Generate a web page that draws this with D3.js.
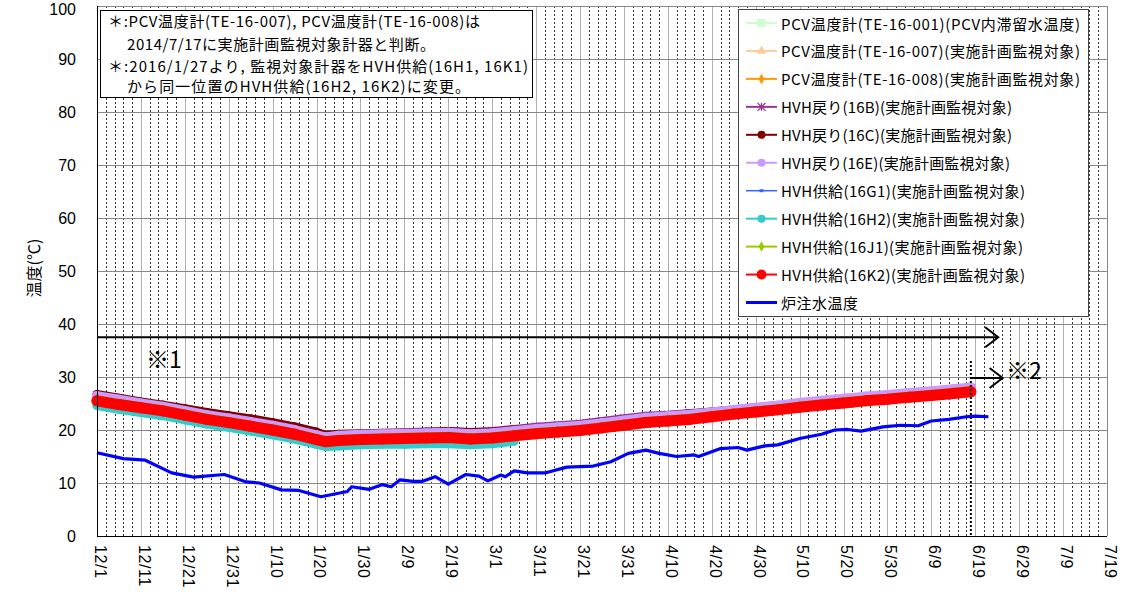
<!DOCTYPE html>
<html><head><meta charset="utf-8">
<script src="https://cdn.jsdelivr.net/npm/d3@7/dist/d3.min.js"></script>
<style>body{margin:0;background:#fff}svg{display:block}</style>
</head><body><svg id="c" width="1126" height="592"></svg>
<script>
// ---------- data ----------
const warmDates = ["2016-12-01","2016-12-06","2016-12-11","2016-12-16","2016-12-21","2016-12-26","2016-12-31",
 "2017-01-05","2017-01-10","2017-01-15","2017-01-20","2017-01-22","2017-01-25","2017-01-30",
 "2017-02-04","2017-02-09","2017-02-14","2017-02-19","2017-02-24","2017-03-01","2017-03-06",
 "2017-03-11","2017-03-16","2017-03-21","2017-03-26","2017-03-31","2017-04-05","2017-04-10",
 "2017-04-15","2017-04-20","2017-04-25","2017-04-30","2017-05-05","2017-05-10","2017-05-15",
 "2017-05-20","2017-05-25","2017-05-30","2017-06-04","2017-06-09","2017-06-14","2017-06-18"];
const pcv001 = [25.3,24.6,24.0,23.4,22.6,21.8,21.2,20.5,19.8,19.0,18.0,17.6,17.8,18.0,18.1,18.2,18.3,18.4,18.1,18.3,18.7,19.1,19.4,19.7,20.2,20.7,21.2,21.5,21.8,22.3,22.8,23.2,23.6,24.1,24.5,24.9,25.3,25.6,26.0,26.3,26.7,27.0];
const pcv007 = [25.7,25.0,24.4,23.8,23.0,22.2,21.6,20.9,20.2,19.4,18.4,18.0,18.2,18.4,18.5,18.6,18.7,18.8,18.5,18.7,19.1,19.5,19.8,20.1,20.6,21.1,21.6,21.9,22.2,22.7,23.2,23.6,24.0,24.5,24.9,25.3,25.7,26.0,26.4,26.7,27.1,27.4];
const pcv008 = [25.8,25.1,24.5,23.9,23.1,22.3,21.7,21.0,20.3,19.5,18.5,18.1,18.3,18.5,18.6,18.7,18.8,18.9,18.6,18.8,19.2,19.6,19.9,20.2,20.7,21.2,21.7,22.0,22.3,22.8,23.3,23.7,24.1,24.6,25.0,25.4,25.8,26.1,26.5,26.8,27.2,27.5];
const hvh16B = [26.2,25.5,24.9,24.3,23.5,22.7,22.1,21.4,20.7,19.9,18.9,18.5,18.8,19.0,19.1,19.2,19.4,19.8,19.6,19.8,20.2,20.6,20.9,21.2,21.7,22.2,22.7,22.9,23.2,23.4,23.8,24.2,24.6,25.0,25.4,25.8,26.2,26.5,26.9,27.2,27.6,27.9];
const hvh16C = [26.7,26.0,25.3,24.7,24.0,23.3,22.7,22.1,21.4,20.6,19.6,19.0,19.2,19.3,19.4,19.5,19.6,19.7,19.5,19.6,20.0,20.3,20.6,20.9,21.4,21.9,22.4,22.7,23.0,23.4,23.8,24.2,24.6,25.0,25.4,25.8,26.2,26.5,26.9,27.2,27.6,27.9];
const hvh16E = [26.4,25.7,25.0,24.4,23.6,22.8,22.2,21.5,20.8,20.0,19.0,18.6,18.9,19.1,19.2,19.3,19.4,19.5,19.2,19.4,19.8,20.2,20.5,20.8,21.3,21.8,22.3,22.6,22.9,23.3,23.8,24.2,24.6,25.1,25.5,25.9,26.3,26.6,27.0,27.3,27.7,28.0];
const hvh16G1 = [25.6,24.9,24.3,23.7,22.9,22.1,21.5,20.8,20.1,19.3,18.3,17.9,18.1,18.3,18.4,18.5,18.6,18.7,18.4,18.6,19.0,19.4,19.7,20.0,20.5,21.0,21.5,21.8,22.1,22.6,23.1,23.5,23.9,24.4,24.8,25.2,25.6,25.9,26.3,26.6,27.0,27.3];
const hvh16H2 = [24.6,23.9,23.3,22.7,21.9,21.1,20.5,19.8,19.1,18.3,17.3,16.9,17.0,17.2,17.3,17.3,17.4,17.4,17.2,17.4,17.9,null,null,null,null,null,null,null,null,null,null,null,null,null,null,null,null,null,null,null,null,null];
const hvh16J1 = [25.9,25.2,24.6,24.0,23.2,22.4,21.8,21.1,20.4,19.6,18.6,18.2,18.4,18.6,18.7,18.8,18.9,19.0,18.7,18.9,19.3,19.7,20.0,20.3,20.8,21.3,21.8,22.1,22.4,22.9,23.4,23.8,24.2,24.7,25.1,25.5,25.9,26.2,26.6,26.9,27.3,27.6];
const hvh16K2 = [25.5,24.8,24.2,23.6,22.8,22.0,21.4,20.7,20.0,19.2,18.2,17.8,18.0,18.2,18.3,18.4,18.5,18.6,18.3,18.5,18.9,19.3,19.6,19.9,20.4,20.9,21.4,21.7,22.0,22.5,23.0,23.4,23.8,24.3,24.7,25.1,25.5,25.8,26.2,26.5,26.9,27.2];

const waterDates = ["2016-12-01","2016-12-07","2016-12-12","2016-12-18","2016-12-23","2016-12-30","2017-01-04","2017-01-07",
 "2017-01-12","2017-01-16","2017-01-21","2017-01-27","2017-01-28","2017-02-01","2017-02-04","2017-02-06","2017-02-08",
 "2017-02-11","2017-02-13","2017-02-16","2017-02-19","2017-02-23","2017-02-26","2017-02-28","2017-03-03","2017-03-04",
 "2017-03-06","2017-03-09","2017-03-13","2017-03-18","2017-03-24","2017-03-28","2017-04-01","2017-04-05","2017-04-08",
 "2017-04-12","2017-04-16","2017-04-17","2017-04-22","2017-04-26","2017-04-28","2017-05-02","2017-05-05","2017-05-10",
 "2017-05-15","2017-05-18","2017-05-21","2017-05-24","2017-05-29","2017-06-02","2017-06-06","2017-06-09","2017-06-13",
 "2017-06-17","2017-06-19","2017-06-22"];
const waterTemp = [15.7,14.6,14.3,11.9,11.1,11.6,10.2,10.0,8.7,8.6,7.4,8.4,9.3,8.8,9.7,9.3,10.6,10.3,10.3,11.2,9.8,11.6,11.3,10.4,11.5,11.2,
 12.3,11.9,11.9,13.0,13.2,14.0,15.6,16.2,15.6,15.0,15.3,15.0,16.5,16.7,16.2,17.0,17.2,18.4,19.2,20.0,20.1,19.8,20.6,20.9,20.8,21.7,22.0,22.5,22.6,22.5];

const seriesNames = ["PCV温度計(TE-16-001)(PCV内滞留水温度)","PCV温度計(TE-16-007)(実施計画監視対象)","PCV温度計(TE-16-008)(実施計画監視対象)",
 "HVH戻り(16B)(実施計画監視対象)","HVH戻り(16C)(実施計画監視対象)","HVH戻り(16E)(実施計画監視対象)","HVH供給(16G1)(実施計画監視対象)",
 "HVH供給(16H2)(実施計画監視対象)","HVH供給(16J1)(実施計画監視対象)","HVH供給(16K2)(実施計画監視対象)","炉注水温度"];
const seriesColors = ["#ccffcc","#ffcc99","#ff9900","#993399","#800000","#cc99ff","#3366ff","#33cccc","#99cc00","#ff0000","#0000ff"];
const seriesMarkers = ["square","triangle","diamond","cross","circle","circle","dash","circle","diamond","circle","none"];
const tickDates = ["2016-12-01","2016-12-11","2016-12-21","2016-12-31","2017-01-10","2017-01-20","2017-01-30","2017-02-09","2017-02-19",
 "2017-03-01","2017-03-11","2017-03-21","2017-03-31","2017-04-10","2017-04-20","2017-04-30","2017-05-10","2017-05-20","2017-05-30",
 "2017-06-09","2017-06-19","2017-06-29","2017-07-09","2017-07-19"];
const tickLabels = ["12/1","12/11","12/21","12/31","1/10","1/20","1/30","2/9","2/19","3/1","3/11","3/21","3/31","4/10","4/20","4/30",
 "5/10","5/20","5/30","6/9","6/19","6/29","7/9","7/19"];
const yTicks = [0,10,20,30,40,50,60,70,80,90,100];
const noteLines = ["＊:PCV温度計(TE-16-007), PCV温度計(TE-16-008)は","2014/7/17に実施計画監視対象計器と判断。",
 "＊:2016/1/27より, 監視対象計器をHVH供給(16H1, 16K1)","から同一位置のHVH供給(16H2, 16K2)に変更。"];

// ---------- setup ----------
const parse = d3.timeParse("%Y-%m-%d");
const svg = d3.select("#c");
const start = parse("2016-12-01"), end = parse("2017-07-19");
const x = d3.scaleTime().domain([start, end]).range([97, 1107]);
const y = d3.scaleLinear().domain([0, 100]).range([536, 6]);
const JP = "'Noto Sans CJK JP','Noto Sans',sans-serif";
const AR = "'Liberation Sans',Arial,sans-serif";

// grid: vertical every 2 days
const gridDays = d3.range(0, 231, 2).map(d => d3.timeDay.offset(start, d));
const g = svg.append("g");
g.selectAll("line.v").data(gridDays).join("line")
  .attr("x1", d => Math.round(x(d)) + 0.5).attr("x2", d => Math.round(x(d)) + 0.5)
  .attr("y1", y(100)).attr("y2", y(0))
  .attr("stroke", (d, i) => i % 5 === 0 ? "#b0b0b0" : "#333")
  .attr("stroke-dasharray", (d, i) => i % 5 === 0 ? null : "2,2")
  .attr("stroke-width", 1);
g.selectAll("line.h").data(yTicks.slice(1, -1)).join("line")
  .attr("x1", x(start)).attr("x2", x(end))
  .attr("y1", d => Math.round(y(d)) + 0.5).attr("y2", d => Math.round(y(d)) + 0.5)
  .attr("stroke", "#888").attr("stroke-width", 1);
svg.append("line").attr("x1", x(start)).attr("x2", x(end)).attr("y1", y(100) + 0.5).attr("y2", y(100) + 0.5).attr("stroke", "#888");
svg.append("line").attr("x1", x(end) + 0.5).attr("x2", x(end) + 0.5).attr("y1", y(100)).attr("y2", y(0)).attr("stroke", "#888");

// ---------- series ----------
const warmValues = [pcv001, pcv007, pcv008, hvh16B, hvh16C, hvh16E, hvh16G1, hvh16H2, hvh16J1, hvh16K2];
const bandWidth = [6, 6, 6, 8, 9, 10, 3, 9, 7, 11];
const wd = warmDates.map(parse);
const line = d3.line().defined(d => d.v != null).x(d => x(d.t)).y(d => y(d.v)).curve(d3.curveLinear);

function marker(sel, type, size, color) {
  if (type === "circle") sel.append("circle").attr("r", size / 2).attr("fill", color);
  else if (type === "square") sel.append("rect").attr("x", -size / 2).attr("y", -size / 2).attr("width", size).attr("height", size).attr("fill", color);
  else if (type === "triangle") sel.append("path").attr("d", d3.symbol(d3.symbolTriangle, size * size * 0.6)()).attr("fill", color);
  else if (type === "diamond") sel.append("path").attr("d", d3.symbol(d3.symbolDiamond, size * size * 0.5)()).attr("fill", color);
  else if (type === "cross") sel.append("path").attr("d", `M${-size/2},${-size/2}L${size/2},${size/2}M${-size/2},${size/2}L${size/2},${-size/2}M0,${-size/2}L0,${size/2}`).attr("stroke", color).attr("stroke-width", 1.3);
  else if (type === "dash") sel.append("rect").attr("x", -2).attr("y", -1.5).attr("width", 4).attr("height", 3).attr("fill", color);
}

warmValues.forEach((vals, si) => {
  const pts = vals.map((v, i) => ({ t: wd[i], v }));
  const sg = svg.append("g");
  sg.append("path").attr("d", line(pts)).attr("fill", "none")
    .attr("stroke", seriesColors[si]).attr("stroke-width", bandWidth[si])
    .attr("stroke-linejoin", "round").attr("stroke-linecap", "round");
  pts.filter(p => p.v != null).forEach(p => {
    const m = sg.append("g").attr("transform", `translate(${x(p.t)},${y(p.v)})`);
    marker(m, seriesMarkers[si], bandWidth[si], seriesColors[si]);
  });
});
const wpts = waterDates.map((d, i) => ({ t: parse(d), v: waterTemp[i] }));
svg.append("path").attr("d", line(wpts)).attr("fill", "none").attr("stroke", seriesColors[10])
  .attr("stroke-width", 3.2).attr("stroke-linejoin", "round");

// ---------- axes ----------
const xAxis = svg.append("g").attr("transform", `translate(0,${y(0)})`)
  .call(d3.axisBottom(x).tickValues(tickDates.map(parse)).tickFormat((d, i) => tickLabels[i]).tickSize(0));
xAxis.select(".domain").attr("stroke", "#000").attr("d", `M${x(start)},0.5H${x(end)}`);
xAxis.selectAll("text").attr("transform", "rotate(90)").attr("x", 9).attr("y", -3).attr("dy", "0.35em")
  .attr("text-anchor", "start").attr("font-family", AR).attr("font-size", 16).attr("letter-spacing", 0.6).attr("fill", "#000");

const yAxis = svg.append("g").attr("transform", `translate(${x(start)},0)`)
  .call(d3.axisLeft(y).tickValues(yTicks).tickSize(0).tickPadding(21));
yAxis.select(".domain").attr("stroke", "#000").attr("d", `M0.5,${y(100)}V${y(0)}`);
yAxis.selectAll("text").attr("font-family", AR).attr("font-size", 16).attr("fill", "#000")
  .attr("dy", d => d === 100 ? "0.55em" : "0.32em");

svg.append("text").attr("transform", `translate(33,268) rotate(-90)`).attr("text-anchor", "middle")
  .attr("dominant-baseline", "central").attr("font-family", JP).attr("font-size", 16).text("温度(℃)");

// ---------- annotations ----------
const arrowY1 = y(37.5), arrowY2 = y(29.8);
const a1End = x(parse("2017-06-24")) + 1;
svg.append("line").attr("x1", x(start)).attr("x2", a1End).attr("y1", arrowY1).attr("y2", arrowY1).attr("stroke", "#000").attr("stroke-width", 2);
svg.append("path").attr("d", `M${a1End - 13},${arrowY1 - 10}L${a1End},${arrowY1}L${a1End - 13},${arrowY1 + 10}`).attr("fill", "none").attr("stroke", "#000").attr("stroke-width", 2);
const a2Start = x(parse("2017-06-18")), a2End = x(parse("2017-06-25")) + 1;
svg.append("line").attr("x1", a2Start).attr("x2", a2End).attr("y1", arrowY2).attr("y2", arrowY2).attr("stroke", "#000").attr("stroke-width", 2);
svg.append("path").attr("d", `M${a2End - 13},${arrowY2 - 10}L${a2End},${arrowY2}L${a2End - 13},${arrowY2 + 10}`).attr("fill", "none").attr("stroke", "#000").attr("stroke-width", 2);
svg.append("line").attr("x1", a2Start).attr("x2", a2Start).attr("y1", y(33)).attr("y2", y(0)).attr("stroke", "#000").attr("stroke-width", 2).attr("stroke-dasharray", "2,2");
svg.append("text").attr("x", 146).attr("y", 358).attr("dominant-baseline", "central").attr("font-family", JP).attr("font-size", 23).text("※1");
svg.append("text").attr("x", 1006).attr("y", 369).attr("dominant-baseline", "central").attr("font-family", JP).attr("font-size", 23).text("※2");

// note box
svg.append("rect").attr("x", 100.5).attr("y", 10.5).attr("width", 432).attr("height", 87).attr("fill", "#fff").attr("stroke", "#000");
const noteX = [108, 127, 108, 127], noteY = [20, 43, 65, 85], noteW = [372, 308, 420, 343];
noteLines.forEach((t, i) => svg.append("text").attr("x", noteX[i]).attr("y", noteY[i]).attr("dominant-baseline", "central")
  .attr("font-family", JP).attr("font-size", 15).attr("textLength", noteW[i]).attr("lengthAdjust", "spacing").text(t));

// legend
const legendW = [299, 299, 299, 231, 231, 229, 244, 244, 242, 244, 77];
const lg = svg.append("g");
lg.append("rect").attr("x", 738.5).attr("y", 9.5).attr("width", 350).attr("height", 307).attr("fill", "#fff").attr("stroke", "#444");
seriesNames.forEach((name, i) => {
  const ry = 23 + i * 27.95;
  lg.append("line").attr("x1", 746).attr("x2", 777).attr("y1", ry).attr("y2", ry).attr("stroke", seriesColors[i])
    .attr("stroke-width", i === 10 ? 3 : (i === 6 ? 1.5 : 2));
  const m = lg.append("g").attr("transform", `translate(761.5,${ry})`);
  marker(m, seriesMarkers[i], i === 9 ? 10 : 8, seriesColors[i]);
  lg.append("text").attr("x", 781).attr("y", ry).attr("dominant-baseline", "central")
    .attr("font-family", JP).attr("font-size", 15).attr("textLength", legendW[i]).attr("lengthAdjust", "spacing").text(name);
});
</script></body></html>
